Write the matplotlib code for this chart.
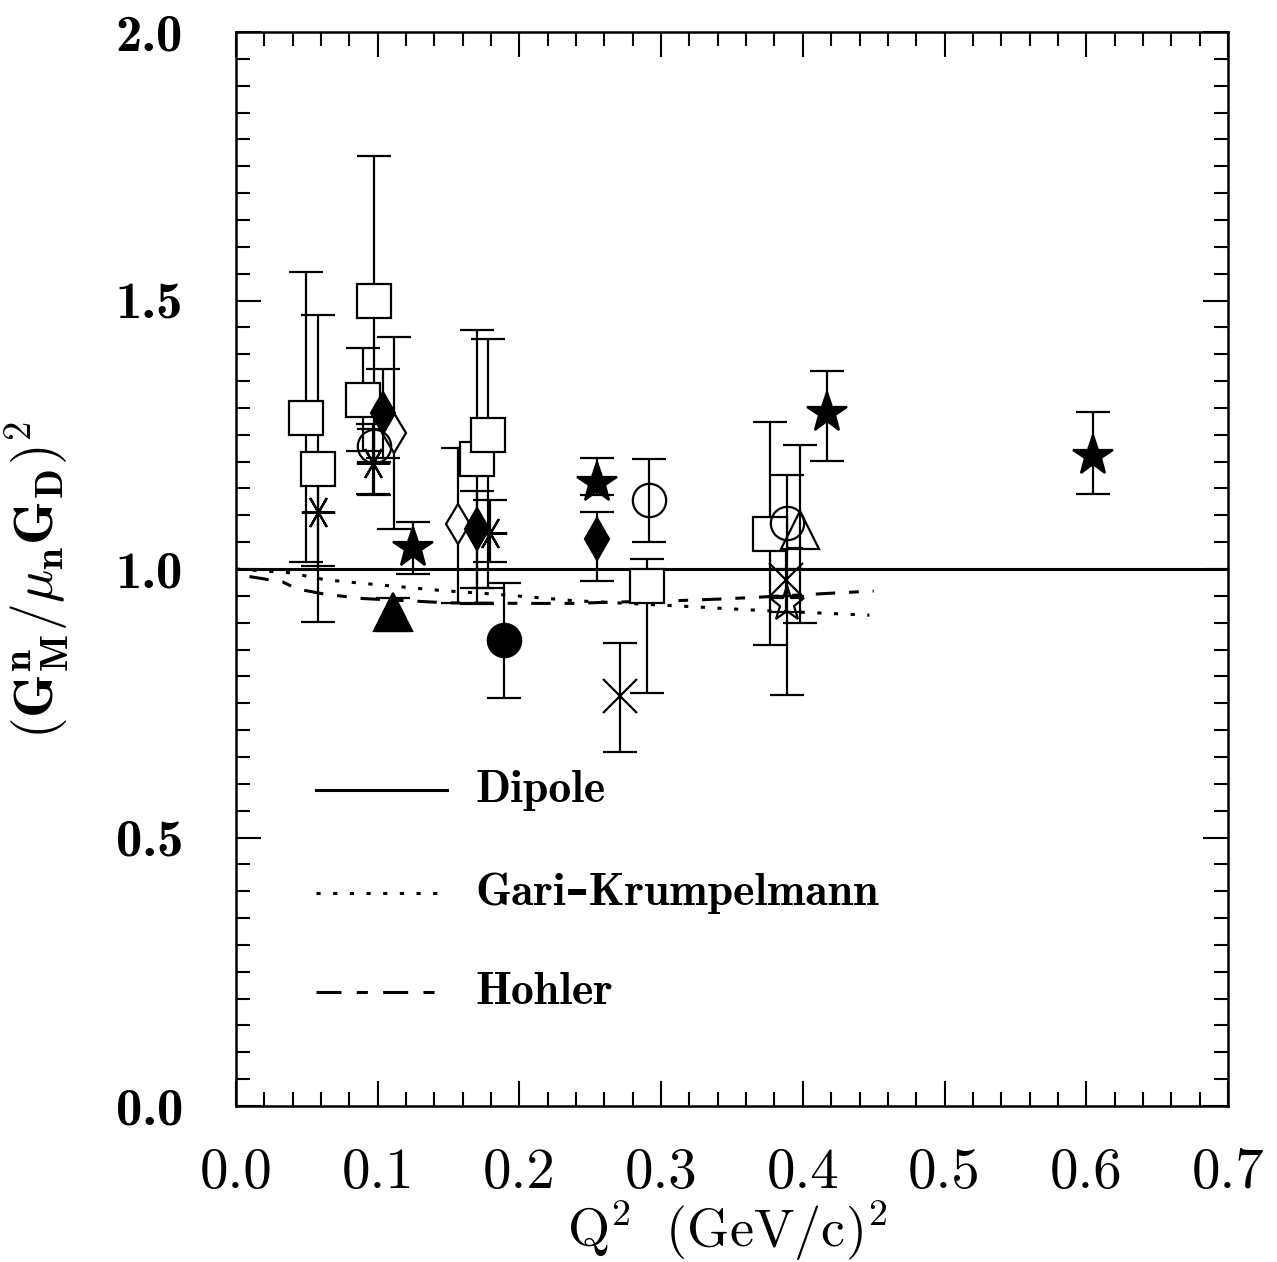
import matplotlib
matplotlib.use('Agg')
import matplotlib.pyplot as plt
from matplotlib.ticker import MultipleLocator, FormatStrFormatter
import numpy as np

plt.rcParams['mathtext.fontset'] = 'cm'
plt.rcParams['font.family'] = ['cmr10', 'DejaVu Serif']
plt.rcParams['axes.formatter.use_mathtext'] = True
plt.rcParams['lines.scale_dashes'] = False

# ---- data: (Q2, value, lower end of bar, upper end of bar) ----
open_sq_q2  = [0.0496, 0.0579, 0.0974, 0.0899, 0.170, 0.178, 0.290, 0.377]
open_sq_val = [1.282, 1.186, 1.500, 1.314, 1.205, 1.250, 0.968, 1.066]
open_sq_lo  = [1.014, 0.902, 1.137, 1.220, 0.935, 0.964, 0.770, 0.858]
open_sq_hi  = [1.554, 1.474, 1.769, 1.411, 1.446, 1.428, 1.019, 1.274]

fstar_q2  = [0.1247, 0.2545, 0.4168, 0.6045]
fstar_val = [1.040, 1.160, 1.290, 1.210]
fstar_lo  = [0.990, 1.138, 1.201, 1.140]
fstar_hi  = [1.088, 1.207, 1.369, 1.293]

fdiam_q2  = [0.1035, 0.170, 0.2545]
fdiam_val = [1.290, 1.074, 1.0565]
fdiam_lo  = [1.207, 0.964, 0.977]
fdiam_hi  = [1.373, 1.145, 1.107]

odiam_q2  = [0.1117, 0.157]
odiam_val = [1.253, 1.083]
odiam_lo  = [1.0745, 0.936]
odiam_hi  = [1.433, 1.225]

aster_q2  = [0.0576, 0.0964, 0.179]
aster_val = [1.106, 1.197, 1.067]
aster_lo  = [1.005, 1.140, 1.014]
aster_hi  = [1.210, 1.270, 1.129]

ocirc_q2  = [0.0976, 0.2915, 0.389]
ocirc_val = [1.230, 1.129, 1.085]
ocirc_lo  = [1.200, 1.050, 0.950]
ocirc_hi  = [1.260, 1.204, 1.175]

fcirc_q2  = [0.189]
fcirc_val = [0.867]
fcirc_lo  = [0.760]
fcirc_hi  = [0.974]

ftri_q2  = [0.1106]
ftri_val = [0.920]
ftri_lo  = [0.885]
ftri_hi  = [0.946]

otri_q2  = [0.398]
otri_val = [1.073]
otri_lo  = [0.900]
otri_hi  = [1.231]

cross_q2  = [0.271, 0.388]
cross_val = [0.763, 0.979]
cross_lo  = [0.660, 0.920]
cross_hi  = [0.862, 1.040]

ostar_q2  = [0.389]
ostar_val = [0.935]
ostar_lo  = [0.765]
ostar_hi  = [1.000]

# theory curves
dip_q2 = [0.0, 0.7]
dip_val = [1.0, 1.0]

gk_q2  = [0.0, 0.038, 0.063, 0.091, 0.145, 0.189, 0.239, 0.321, 0.362, 0.447]
gk_val = [1.000, 0.993, 0.980, 0.973, 0.960, 0.952, 0.941, 0.930, 0.924, 0.914]

hoh_q2  = [0.0095, 0.033, 0.043, 0.063, 0.090, 0.150, 0.205, 0.240, 0.260, 0.310, 0.340, 0.365, 0.420, 0.450]
hoh_val = [0.986, 0.976, 0.963, 0.953, 0.945, 0.937, 0.936, 0.936, 0.938, 0.941, 0.944, 0.947, 0.955, 0.959]

fig = plt.figure(figsize=(12.77, 12.62), dpi=100)
ax = fig.add_axes([0.1848, 0.1236, 0.7768, 0.851])

def bars(q2, val, lo, hi, **kw):
    val = np.array(val)
    yerr = [val - np.array(lo), np.array(hi) - val]
    ax.errorbar(q2, val, yerr=yerr, linestyle='none', ecolor='black',
                elinewidth=1.6, capsize=12, capthick=1.6, mec='black',
                mew=1.6, **kw)

bars(open_sq_q2, open_sq_val, open_sq_lo, open_sq_hi, marker='s', ms=24, mfc='white')
bars(odiam_q2, odiam_val, odiam_lo, odiam_hi, marker='d', ms=20, mfc='white')
bars(fdiam_q2, fdiam_val, fdiam_lo, fdiam_hi, marker='d', ms=21, mfc='black')
bars(fstar_q2, fstar_val, fstar_lo, fstar_hi, marker='*', ms=30, mfc='black')
bars(aster_q2, aster_val, aster_lo, aster_hi, marker=(6, 2, 90), ms=24, mfc='black')
bars(ocirc_q2, ocirc_val, ocirc_lo, ocirc_hi, marker='o', ms=24, mfc='none')
bars(fcirc_q2, fcirc_val, fcirc_lo, fcirc_hi, marker='o', ms=24, mfc='black')
bars(ftri_q2, ftri_val, ftri_lo, ftri_hi, marker='^', ms=28, mfc='black')
bars(otri_q2, otri_val, otri_lo, otri_hi, marker='^', ms=27, mfc='none')
bars(cross_q2, cross_val, cross_lo, cross_hi, marker='x', ms=24, mfc='none')
bars(ostar_q2, ostar_val, ostar_lo, ostar_hi, marker='*', ms=26, mfc='none')

ax.plot(dip_q2, dip_val, color='black', lw=2.2)
ax.plot(gk_q2, gk_val, color='black', lw=2.2, linestyle=(0, (3, 9)))
ax.plot(hoh_q2, hoh_val, color='black', lw=2.2, linestyle=(0, (14, 10, 7, 10)))

# legend drawn by hand
leg_y = [0.294, 0.198, 0.106]
leg_names = ['Dipole', 'Gari\u2013Krumpelmann', 'Hohler']
leg_styles = ['-', (0, (3, 9)), (0, (18, 11, 8, 11))]
for yy, name, st in zip(leg_y, leg_names, leg_styles):
    ax.plot([0.0806, 0.2127], [yy, yy], transform=ax.transAxes, color='black',
            lw=2.2, linestyle=st)
    ax.text(0.241, yy, name, transform=ax.transAxes, fontsize=33,
            family=['cmb10', 'DejaVu Serif'], fontweight='bold',
            va='center', ha='left')

ax.set_xlim(0, 0.7)
ax.set_ylim(0, 2.0)
ax.xaxis.set_major_locator(MultipleLocator(0.1))
ax.xaxis.set_minor_locator(MultipleLocator(0.02))
ax.yaxis.set_major_locator(MultipleLocator(0.5))
ax.yaxis.set_minor_locator(MultipleLocator(0.05))
ax.xaxis.set_major_formatter(FormatStrFormatter('%.1f'))
ax.yaxis.set_major_formatter(FormatStrFormatter('%.1f'))
ax.tick_params(which='both', direction='in', top=True, right=True, width=1.5)
ax.tick_params(which='major', length=18)
ax.tick_params(which='minor', length=10)
ax.tick_params(axis='x', which='major', pad=30, labelsize=41)
ax.tick_params(axis='y', which='major', pad=38, labelsize=38)
for lab in ax.get_yticklabels():
    lab.set_family('cmb10')
for sp in ax.spines.values():
    sp.set_linewidth(1.8)

ax.set_xlabel(r'$\mathrm{Q^2\ \ (GeV/c)^2}$', fontsize=39)
ax.xaxis.set_label_coords(0.495, -0.086)
ax.set_ylabel(r'$\mathbf{(G^n_M/}\mu_{\mathbf{n}}\mathbf{G_D)^2}$', fontsize=40)
ax.yaxis.set_label_coords(-0.165, 0.49)

fig.savefig('out.png', dpi=100)
